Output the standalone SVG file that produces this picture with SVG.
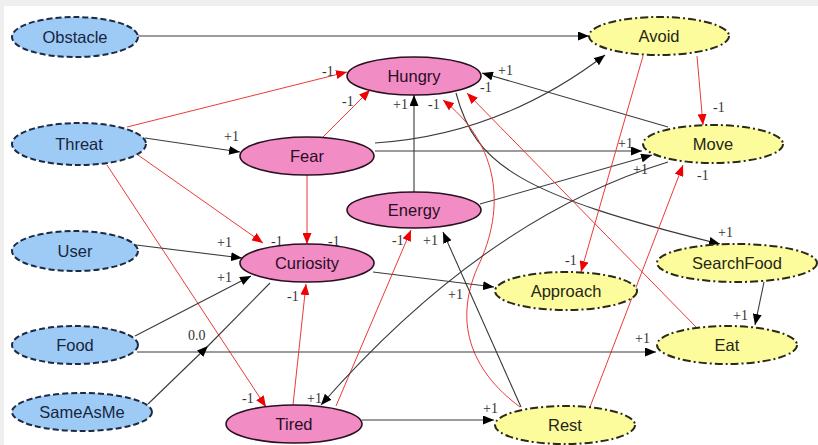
<svg xmlns="http://www.w3.org/2000/svg" width="818" height="445" viewBox="0 0 818 445">
  <style>
    .in ellipse { fill: #9ecbf5; stroke: #1c2a44; stroke-width: 2; stroke-dasharray: 6 3; }
    .st ellipse { fill: #f18cc4; stroke: #2a1020; stroke-width: 1.6; }
    .ac ellipse { fill: #fdfc9c; stroke: #2a2a1a; stroke-width: 2; stroke-dasharray: 8 3 2 3; }
    .node text { font-family: "Liberation Sans", Arial, sans-serif; font-size: 16.5px; text-anchor: middle; dominant-baseline: central; }
    .in text { fill: #17263f; }
    .st text { fill: #2a0c24; }
    .ac text { fill: #262616; }
    .pos { fill: none; stroke: #3a3a3a; stroke-width: 1.1; marker-end: url(#ab); }
    .neg { fill: none; stroke: #ea3a3a; stroke-width: 1; marker-end: url(#ar); }
    .line { fill: none; stroke: #3a3a3a; stroke-width: 1.1; }
    .lbl text { font-family: "Liberation Serif", "Times New Roman", serif; font-size: 14px; fill: #333; }
  </style>
  <defs>
    <marker id="ab" markerUnits="userSpaceOnUse" viewBox="0 0 11 9" refX="11" refY="4.5" markerWidth="11" markerHeight="9" orient="auto">
      <path d="M0,0 L11,4.5 L0,9 z" fill="#000"/>
    </marker>
    <marker id="ar" markerUnits="userSpaceOnUse" viewBox="0 0 11 9" refX="11" refY="4.5" markerWidth="11" markerHeight="9" orient="auto">
      <path d="M0,0 L11,4.5 L0,9 z" fill="#f00000"/>
    </marker>
  </defs>

  <!-- frame -->
  <rect x="0" y="0" width="818" height="445" fill="#efefef"/>
  <rect x="4" y="6" width="814" height="439" fill="#ffffff"/>

  <!-- connectors -->
  <g id="connectors">
    <path class="pos" d="M138,36 L589,36"/>
    <path class="neg" d="M127,127 L347,72"/>
    <path class="pos" d="M145,138 L240,152"/>
    <path class="neg" d="M138,155 L263,243"/>
    <path class="neg" d="M107,165 L266,407"/>
    <path class="neg" d="M322,138 L370,90"/>
    <path class="neg" d="M307,175 L307,244"/>
    <path class="pos" d="M375,143 Q500,135 605,55"/>
    <path class="pos" d="M375,151 L642,151"/>
    <path class="pos" d="M480,204 L652,155"/>
    <path class="pos" d="M414,192 L414,95"/>
    <path class="pos" d="M456,93 C475,165 520,195 720,244"/>
    <path class="pos" d="M668,127 L482,73"/>
    <path class="neg" d="M697,328 L467,93"/>
    <path class="neg" d="M520,407 C470,370 452,320 480,262 C508,200 494,140 443,100"/>
    <path class="neg" d="M643,56 L581,272"/>
    <path class="neg" d="M697,56 L703,125"/>
    <path class="neg" d="M590,407 L683,165"/>
    <path class="pos" d="M764,282 L755,325"/>
    <path class="pos" d="M137,352 L656,352"/>
    <path class="pos" d="M135,336 L251,276"/>
    <path class="pos" d="M136,245 L242,258"/>
    <path class="pos" d="M148,404 L208,346"/>
    <path class="line" d="M207,347 L270,283"/>
    <path class="pos" d="M373,272 L494,287"/>
    <path class="neg" d="M293,405 L306,284"/>
    <path class="neg" d="M336,406 L411,230"/>
    <path class="pos" d="M521,407 L443,232"/>
    <path class="pos" d="M362,420 L494,420"/>
    <path class="pos" d="M668,162 Q485,218 321,405"/>
  </g>

  <!-- edge weights -->
  <g class="lbl">
    <text x="224" y="141">+1</text>
    <text x="322" y="76">-1</text>
    <text x="342" y="106">-1</text>
    <text x="393" y="109">+1</text>
    <text x="428" y="109">-1</text>
    <text x="498" y="75">+1</text>
    <text x="480" y="92">-1</text>
    <text x="713" y="112">-1</text>
    <text x="618" y="148">+1</text>
    <text x="633" y="174">+1</text>
    <text x="697" y="180">-1</text>
    <text x="271" y="246">-1</text>
    <text x="328" y="246">-1</text>
    <text x="217" y="247">+1</text>
    <text x="217" y="282">+1</text>
    <text x="287" y="301">-1</text>
    <text x="392" y="245">-1</text>
    <text x="423" y="245">+1</text>
    <text x="448" y="299">+1</text>
    <text x="565" y="265">-1</text>
    <text x="718" y="237">+1</text>
    <text x="733" y="320">+1</text>
    <text x="635" y="343">+1</text>
    <text x="188" y="340">0.0</text>
    <text x="242" y="403">-1</text>
    <text x="307" y="403">+1</text>
    <text x="483" y="413">+1</text>
  </g>

  <!-- input nodes -->
  <g id="Obstacle" class="node in"><ellipse cx="75" cy="37" rx="63" ry="20"/><text x="75" y="37">Obstacle</text></g>
  <g id="Threat" class="node in"><ellipse cx="79" cy="144" rx="67" ry="21"/><text x="79" y="144">Threat</text></g>
  <g id="User" class="node in"><ellipse cx="75" cy="251" rx="63" ry="20"/><text x="75" y="251">User</text></g>
  <g id="Food" class="node in"><ellipse cx="75" cy="345" rx="63" ry="19"/><text x="75" y="345">Food</text></g>
  <g id="SameAsMe" class="node in"><ellipse cx="82" cy="412" rx="70" ry="19"/><text x="82" y="412">SameAsMe</text></g>

  <!-- internal state nodes -->
  <g id="Hungry" class="node st"><ellipse cx="414" cy="76" rx="67" ry="19"/><text x="414" y="76">Hungry</text></g>
  <g id="Fear" class="node st"><ellipse cx="307" cy="156" rx="67" ry="19"/><text x="307" y="156">Fear</text></g>
  <g id="Energy" class="node st"><ellipse cx="414" cy="210" rx="67" ry="18"/><text x="414" y="210">Energy</text></g>
  <g id="Curiosity" class="node st"><ellipse cx="307" cy="263" rx="67" ry="19"/><text x="307" y="263">Curiosity</text></g>
  <g id="Tired" class="node st"><ellipse cx="294" cy="424" rx="68" ry="19"/><text x="294" y="424">Tired</text></g>

  <!-- action nodes -->
  <g id="Avoid" class="node ac"><ellipse cx="659" cy="36" rx="70" ry="19"/><text x="659" y="36">Avoid</text></g>
  <g id="Move" class="node ac"><ellipse cx="713" cy="144" rx="70" ry="19"/><text x="713" y="144">Move</text></g>
  <g id="SearchFood" class="node ac"><ellipse cx="737" cy="263" rx="80" ry="19"/><text x="737" y="263">SearchFood</text></g>
  <g id="Approach" class="node ac"><ellipse cx="566" cy="291" rx="71" ry="19"/><text x="566" y="291">Approach</text></g>
  <g id="Eat" class="node ac"><ellipse cx="727" cy="345" rx="70" ry="19"/><text x="727" y="345">Eat</text></g>
  <g id="Rest" class="node ac"><ellipse cx="565" cy="425" rx="70" ry="19"/><text x="565" y="425">Rest</text></g>
</svg>
